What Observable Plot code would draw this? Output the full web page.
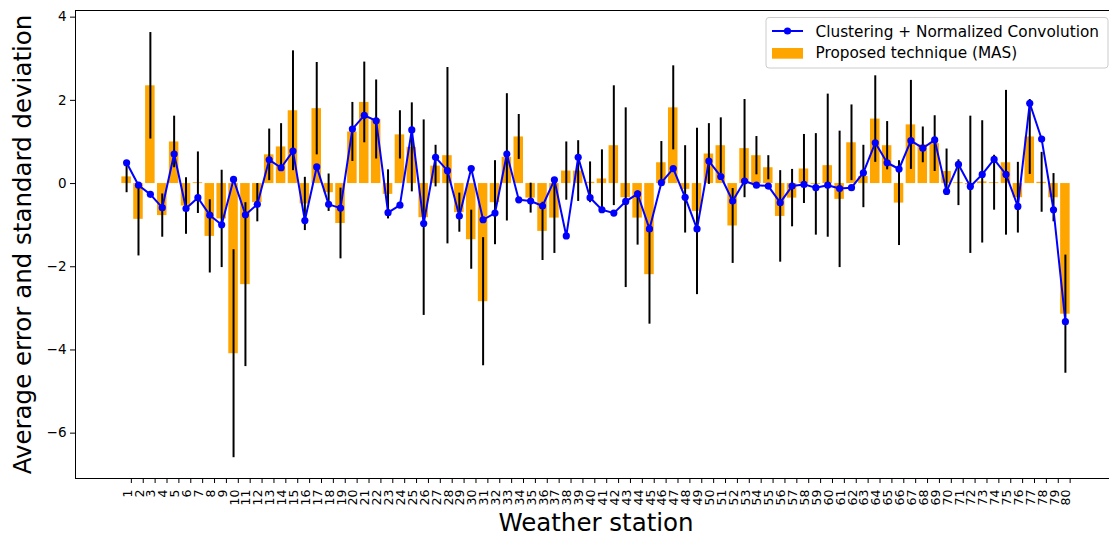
<!DOCTYPE html>
<html><head><meta charset="utf-8">
<script src="https://cdn.jsdelivr.net/npm/d3@7"></script>
<script src="https://cdn.jsdelivr.net/npm/@observablehq/plot@0.6"></script>
<style>
html,body{margin:0;padding:0;background:#fff;overflow:hidden;}
#chart svg{display:block;}
</style></head><body><div id="chart"></div>
<script>
const stations = d3.range(1, 81);
const masError = [0.16,-0.86,2.35,-0.77,1.00,-0.54,0.02,-1.27,-0.85,-4.09,
  -2.43,-0.46,0.69,0.88,1.75,-0.49,1.80,-0.22,-0.96,1.24,
  1.95,1.54,-0.26,1.17,0.87,-0.82,0.42,0.67,-0.70,-1.35,
  -2.84,-0.46,0.63,1.12,-0.35,-1.15,-0.83,0.30,0.30,0.03,
  0.11,0.91,-0.34,-0.83,-2.19,0.50,1.82,-0.14,-0.67,0.71,
  0.91,-1.02,0.84,0.67,0.38,-0.79,-0.35,0.35,-0.02,0.43,
  -0.38,0.98,0.17,1.55,0.91,-0.47,1.41,0.93,0.96,0.29,
  0.02,-0.03,0.04,0.02,0.50,-0.34,1.12,0.03,-0.34,-3.14];
const masStd = [0.38,0.88,1.28,0.52,0.62,0.68,0.74,0.88,1.17,2.50,
  1.97,0.46,0.62,0.56,1.44,0.64,1.11,0.45,0.85,0.71,
  0.97,0.95,0.59,0.58,1.07,2.35,0.50,2.12,0.47,0.71,
  1.54,1.01,1.53,0.54,0.36,0.70,0.85,0.70,0.73,0.49,
  0.70,1.44,2.16,0.65,1.19,0.51,1.01,1.05,2.00,0.73,
  0.67,0.90,1.18,0.46,0.29,1.10,0.69,0.83,1.22,1.72,
  1.64,0.91,0.75,1.04,0.58,1.02,1.07,0.43,0.67,0.54,
  0.55,1.65,1.47,0.66,1.74,0.85,0.90,0.72,0.58,1.42];
const cncError = [0.50,-0.04,-0.26,-0.58,0.71,-0.60,-0.34,-0.76,-0.99,0.10,
  -0.75,-0.50,0.57,0.38,0.78,-0.89,0.40,-0.50,-0.59,1.31,
  1.64,1.51,-0.70,-0.52,1.29,-0.96,0.63,0.31,-0.78,0.36,
  -0.87,-0.71,0.71,-0.39,-0.42,-0.54,0.09,-1.26,0.63,-0.34,
  -0.63,-0.71,-0.43,-0.25,-1.09,0.02,0.36,-0.33,-1.09,0.54,
  0.17,-0.42,0.06,-0.04,-0.06,-0.46,-0.06,-0.02,-0.10,-0.04,
  -0.12,-0.10,0.26,0.98,0.50,0.35,1.03,0.85,1.05,-0.19,
  0.46,-0.07,0.22,0.58,0.22,-0.55,1.93,1.07,-0.63,-3.32];
const legendLabels = ["Clustering + Normalized Convolution", "Proposed technique (MAS)"];
const yTicks = [-6, -4, -2, 0, 2, 4];
const xTitle = "Weather station";
const yTitle = "Average error and standard deviation";

const data = stations.map((s, i) => ({station: s, mas: masError[i], sd: masStd[i], cnc: cncError[i]}));

const font = "'DejaVu Sans', sans-serif";
const plot = Plot.plot({
  width: 1109, height: 538,
  marginLeft: 75, marginRight: -7, marginTop: 10, marginBottom: 60,
  style: {fontFamily: font, background: "white", color: "black"},
  x: {type: "linear", domain: [-3.3, 84.3]},
  y: {domain: [-7.09, 4.16]},
  marks: [
    Plot.rectY(data, {x1: d => d.station - 0.4, x2: d => d.station + 0.4, y1: 0, y2: "mas", fill: "#FFA500"}),
    Plot.ruleX(data, {x: "station", y1: d => d.mas - d.sd, y2: d => d.mas + d.sd, stroke: "black", strokeWidth: 2}),
    Plot.line(data, {x: "station", y: "cnc", stroke: "#0000FF", strokeWidth: 2}),
    Plot.dot(data, {x: "station", y: "cnc", r: 3.6, fill: "#0000FF", stroke: "none"}),
    Plot.frame({stroke: "black", strokeWidth: 1}),
    Plot.axisY({ticks: yTicks, tickSize: 5, tickPadding: 4, fontSize: 13.5, label: null}),
    Plot.axisX({ticks: stations.map(s => s + 0.4), tickSize: 5, tickFormat: () => "", label: null}),
    Plot.text(stations, {x: s => s + 0.4, frameAnchor: "bottom", dy: 11, dx: -3.7, rotate: -90,
      textAnchor: "end", lineAnchor: "middle", text: s => String(s), fontSize: 12.5, fill: "black"}),
    Plot.text([xTitle], {frameAnchor: "bottom", dy: 35, lineAnchor: "top", textAnchor: "middle", fontSize: 24.5, fill: "black"}),
    Plot.text([yTitle], {frameAnchor: "left", dx: -61.5, rotate: -90, lineAnchor: "top", textAnchor: "middle", fontSize: 24.5, fill: "black"})
  ]
});

const svg = d3.select(plot);
const g = svg.append("g").attr("font-family", font).attr("font-size", 15.3).attr("text-anchor", "start");
g.append("rect").attr("x", 766).attr("y", 17.5).attr("width", 342).attr("height", 50.5).attr("rx", 3)
  .attr("fill", "white").attr("fill-opacity", 0.8).attr("stroke", "#cccccc");
g.append("line").attr("x1", 772).attr("x2", 803).attr("y1", 31).attr("y2", 31)
  .attr("stroke", "#0000FF").attr("stroke-width", 2);
g.append("circle").attr("cx", 787.5).attr("cy", 31).attr("r", 3.6).attr("fill", "#0000FF");
g.append("rect").attr("x", 772).attr("y", 48).attr("width", 31).attr("height", 10.7).attr("fill", "#FFA500");
g.append("text").attr("x", 815.5).attr("y", 36.5).attr("fill", "black").attr("text-anchor", "start").text(legendLabels[0]);
g.append("text").attr("x", 815.5).attr("y", 58).attr("fill", "black").attr("text-anchor", "start").text(legendLabels[1]);

document.getElementById("chart").appendChild(plot);
</script></body></html>
